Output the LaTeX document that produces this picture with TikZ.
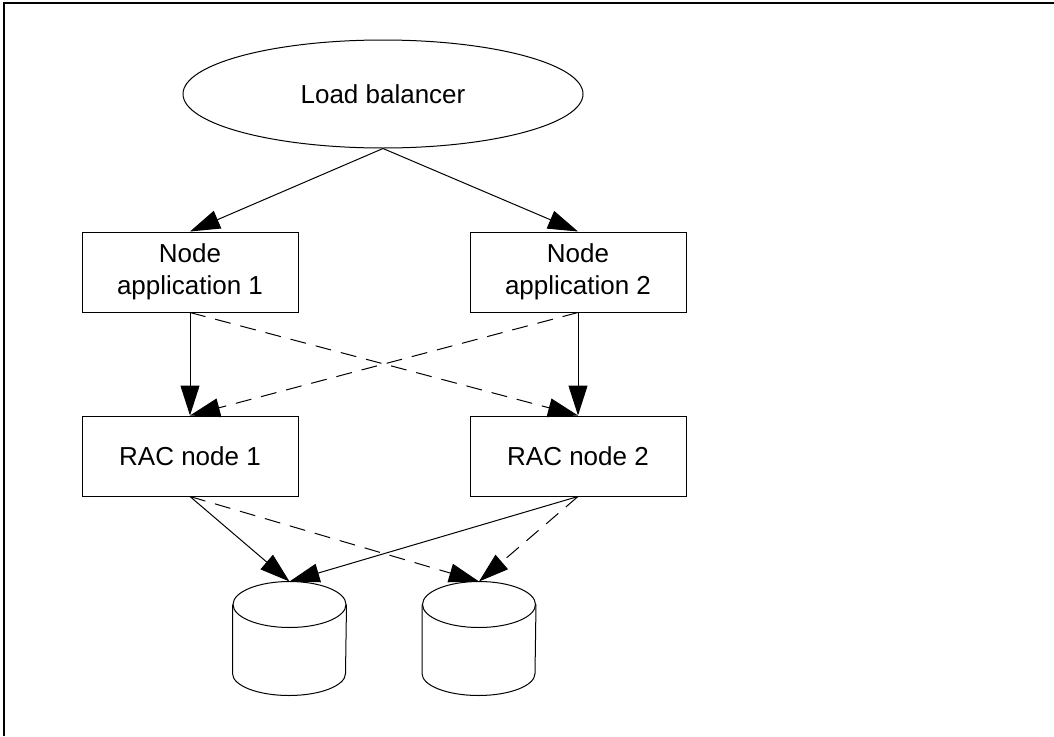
\documentclass[tikz,border=0pt]{standalone}
\usepackage{fontspec}
\setmainfont{Liberation Sans}
\usetikzlibrary{arrows.meta,shapes.geometric}

\begin{document}
\begin{tikzpicture}[x=1pt,y=-1pt,line width=1pt,
    font=\fontsize{26}{32}\selectfont,
    box/.style={draw,minimum width=216pt,minimum height=80pt,align=center,inner sep=0pt},
    disk/.style={minimum width=113pt,minimum height=113pt,inner sep=0pt},
    link/.style={-{Triangle[length=30pt,width=19pt]}},
    dlink/.style={link,dash pattern=on 16pt off 10pt}]
    \useasboundingbox(0,0)rectangle(1054,736);
    \draw[line width=2pt](4,736)--(4,3)--(1054,3);

    \node[draw,ellipse,minimum width=400pt,minimum height=108pt,inner sep=0pt](lb)at(383,94){Load balancer};

    \node[box](app1)at(190,272){Node\\application 1};
    \node[box](app2)at(578,272){Node\\application 2};
    \node[box](rac1)at(190,456){RAC node 1};
    \node[box](rac2)at(578,456){RAC node 2};

    \node[disk](db1)at(289.5,638.5){};
    \node[disk](db2)at(479,638.5){};
    \foreach \d in {db1,db2}{
        \draw([yshift=-23pt]\d.north)ellipse[x radius=56.5pt,y radius=23pt];
        \draw([yshift=-23pt]\d.north west)--([yshift=22pt]\d.south west)
            arc[start angle=180,end angle=360,x radius=56.5pt,y radius=22pt]--([yshift=-23pt]\d.north east);
    }

    \draw[link](lb.south)--(app1.north);
    \draw[link](lb.south)--(app2.north);

    \draw[link](app1.south)--(rac1.north);
    \draw[link](app2.south)--(rac2.north);
    \draw[dlink](app1.south)--(rac2.north);
    \draw[dlink](app2.south)--(rac1.north);

    \draw[link](rac1.south)--(db1.north);
    \draw[link](rac2.south)--(db1.north);
    \draw[dlink](rac1.south)--(db2.north);
    \draw[dlink](rac2.south)--(db2.north);
\end{tikzpicture}
\end{document}
